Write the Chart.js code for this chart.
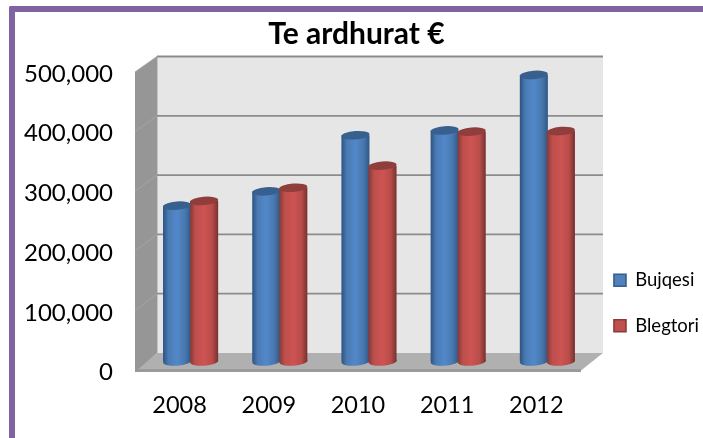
<!DOCTYPE html>
<html><head><meta charset="utf-8">
<style>
html,body{margin:0;padding:0;background:#fff;width:703px;height:438px;overflow:hidden}
#frame{position:absolute;left:9px;top:6px;right:0;bottom:0;border-left:6px solid #8064a2;border-top:6px solid #8064a2;border-top-left-radius:2px}
canvas{position:absolute;left:0;top:0}
</style>
<script src="https://cdn.jsdelivr.net/npm/chart.js@4"></script>
</head><body>
<div id="frame"></div>
<canvas id="c" width="703" height="438"></canvas>
<script>
const categories = ['2008','2009','2010','2011','2012'];
const bujqesi = [261000,285000,379000,387000,480000];
const blegtori = [269000,291000,328000,385000,386000];
const tickStep = 100000;
const axisMax = 500000;

const DX = 22, BAR_DX = 11, BAR_DY = -9, SHIFT = -2;
const backY = y => 56.5 + (y - 72) * 296.5 / 298.5;
const shades = [
  {edgeL:'#2f5686',mid1:'#4a7ab3',mid2:'#5288ca',mid3:'#4877ad',edgeR:'#305a8a',cap:'#37608f'},
  {edgeL:'#8a3b39',mid1:'#bd4f4c',mid2:'#cd5452',mid3:'#b84c49',edgeR:'#7c3331',cap:'#8f3e3c'}
];

const scene = {
  id:'scene',
  afterLayout(c){
    const l = c.legend;
    l.left += 6; l.right += 6;
    l.top -= 76; l.bottom -= 76;
  },
  beforeDatasetsDraw(c){
    const g = c.ctx, a = c.chartArea, y = c.scales.y;
    const L=a.left, R=a.right, T=a.top+SHIFT, B=a.bottom+SHIFT;
    g.save();
    g.fillStyle='#e6e6e6';
    g.fillRect(L+DX,backY(T),R-L,backY(B)-backY(T));
    g.fillStyle='#b0b0b0';
    g.beginPath();g.moveTo(L,B);g.lineTo(L+DX,backY(B));g.lineTo(R+DX,backY(B));g.lineTo(R,B);g.closePath();g.fill();
    g.fillStyle='#9a9a9a';g.fillRect(L,B-1.5,R-L,3);
    g.fillStyle='#969696';
    g.beginPath();g.moveTo(L,T);g.lineTo(L+DX,backY(T));g.lineTo(L+DX,backY(B));g.lineTo(L,B+1.5);g.closePath();g.fill();
    g.strokeStyle='#c4c4c4';g.lineWidth=1;g.beginPath();g.moveTo(L+DX+.5,backY(T));g.lineTo(L+DX+.5,backY(B));g.stroke();
    y.ticks.forEach((t,i)=>{
      const py=y.getPixelForTick(i)+SHIFT;
      if(t.value===0) return;
      g.strokeStyle='#8c8c8c';g.lineWidth=1.8;
      g.beginPath();g.moveTo(L+DX,backY(py));g.lineTo(R+DX,backY(py));g.stroke();
      g.strokeStyle='#a6a6a6';g.lineWidth=1;
      g.beginPath();g.moveTo(L,py);g.lineTo(L+DX,backY(py));g.stroke();
    });
    c.data.datasets.forEach((ds,di)=>{
      const s=shades[di];
      c.getDatasetMeta(di).data.forEach(e=>{
        const x=e.x+BAR_DX,w=e.width,top=e.y+BAR_DY+SHIFT,base=e.base+BAR_DY+SHIFT;
        const x0=x-w/2,rx=w/2+.5,ry=4.2,rot=-0.08;
        const gr=g.createLinearGradient(x0,0,x0+w,0);
        gr.addColorStop(0,s.edgeL);gr.addColorStop(.18,s.mid1);gr.addColorStop(.5,s.mid2);gr.addColorStop(.8,s.mid3);gr.addColorStop(1,s.edgeR);
        g.fillStyle=gr;
        g.beginPath();g.ellipse(x,base,rx,ry,rot,0,Math.PI*2);g.fill();
        g.fillRect(x0-.5,top,w+1,base-top);
        g.fillStyle=s.cap;
        g.beginPath();g.ellipse(x,top,rx,ry,rot,0,Math.PI*2);g.fill();
      });
    });
    g.restore();
  },
  beforeDatasetDraw(){ return false; }
};

new Chart(document.getElementById('c'),{
  type:'bar',
  plugins:[scene],
  data:{labels:categories,datasets:[
    {label:'Bujqesi',data:bujqesi,backgroundColor:'#4f81bd',borderColor:'#385d8a',borderWidth:1.6},
    {label:'Blegtori',data:blegtori,backgroundColor:'#c0504d',borderColor:'#8c3a38',borderWidth:1.6}
  ]},
  options:{
    responsive:false,animation:false,
    layout:{padding:{left:10,top:0,right:0,bottom:0}},
    datasets:{bar:{categoryPercentage:0.607,barPercentage:1}},
    plugins:{
      tooltip:{enabled:false},
      title:{display:true,text:'Te ardhurat €',color:'#000',
        font:{family:'Lato',size:30,weight:'bold',lineHeight:1.2},
        padding:{top:16,bottom:22}},
      legend:{position:'right',align:'end',
        labels:{boxWidth:12,boxHeight:12,padding:27,color:'#000',font:{family:'Lato',size:18.5}}}
    },
    scales:{
      x:{grid:{display:false,drawTicks:false},border:{display:false},
        ticks:{color:'#000',padding:18.5,maxRotation:0,font:{family:'Lato',size:23.5}},
        afterFit(s){s.height=65.5;}},
      y:{min:0,max:axisMax,grid:{display:false,drawTicks:false},border:{display:false},
        ticks:{stepSize:tickStep,color:'#000',padding:22,font:{family:'Lato',size:24},
          callback:v=>Number(v).toLocaleString('en-US')},
        afterFit(s){s.width=125;}}
    }
  }
});
</script>
</body></html>
